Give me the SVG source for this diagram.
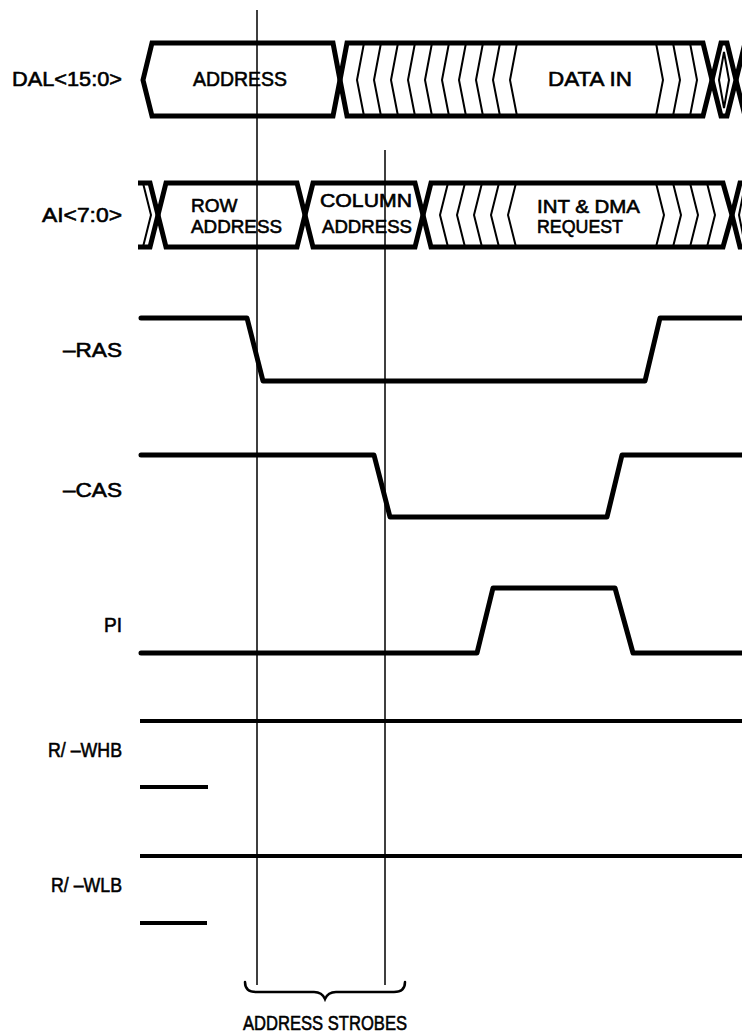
<svg xmlns="http://www.w3.org/2000/svg" width="742" height="1034" viewBox="0 0 742 1034">
<style>
.bus{fill:none;stroke:#000;stroke-width:5;stroke-linejoin:miter;stroke-miterlimit:10}
.hatch{fill:none;stroke:#000;stroke-width:2}
.wave{fill:none;stroke:#000;stroke-width:5;stroke-linejoin:round;stroke-linecap:round}
.rw{fill:none;stroke:#000;stroke-width:3.8}
.vline{fill:none;stroke:#000;stroke-width:1.5}
.brace{fill:none;stroke:#000;stroke-width:2.5;stroke-linecap:round}
text{font-family:"Liberation Sans",Arial,Helvetica,sans-serif;fill:#000;stroke:#000;stroke-width:0.6}
.lbl{font-size:21px;text-anchor:end}
.big{font-size:21px}
.sm{font-size:19px}
</style>
<rect width="742" height="1034" fill="#fff"/>

<!-- DAL<15:0> -->
<g id="dal">
  <text class="lbl" x="122" y="86" textLength="110" lengthAdjust="spacingAndGlyphs">DAL&lt;15:0&gt;</text>
  <polygon class="bus" points="143,80 152,43 333,43 340,80 333,116 152,116"/>
  <text class="big" x="193" y="86" textLength="94" lengthAdjust="spacingAndGlyphs">ADDRESS</text>
  <polygon class="bus" points="340,80 347,43 703,43 712,80 703,116 347,116"/>
  <path class="hatch" d="M364,43 L357,80 L364,116 M381,43 L374,80 L381,116 M398,43 L391,80 L398,116 M415,43 L408,80 L415,116 M432,43 L425,80 L432,116 M449,43 L442,80 L449,116 M466,43 L459,80 L466,116 M483,43 L476,80 L483,116 M500,43 L493,80 L500,116 M517,43 L510,80 L517,116 M656,43 L663,80 L656,116 M673,43 L680,80 L673,116 M690,43 L697,80 L690,116"/>
  <text class="big" x="548" y="86" textLength="84" lengthAdjust="spacingAndGlyphs">DATA IN</text>
  <polygon class="bus" points="712,80 721,43 727,43 736,80 727,116 721,116"/>
  <path class="hatch" d="M719,80 L724,52 L729,80 L724,108 Z"/>
  <path class="bus" d="M736,80 L745,43 M736,80 L745,116"/>
</g>

<!-- AI<7:0> -->
<g id="ai">
  <text class="lbl" x="122" y="222" textLength="80" lengthAdjust="spacingAndGlyphs">AI&lt;7:0&gt;</text>
  <path class="bus" d="M138,183 L150,183 L158,215 L150,247 L138,247"/>
  <path class="hatch" d="M143,183 L151,215 L143,247"/>
  <polygon class="bus" points="158,215 166,183 297,183 305,215 297,247 166,247"/>
  <text class="sm" x="191" y="212">ROW</text>
  <text class="sm" x="191" y="233" textLength="91" lengthAdjust="spacingAndGlyphs">ADDRESS</text>
  <polygon class="bus" points="305,215 313,183 415,183 423,215 415,247 313,247"/>
  <text class="sm" x="320" y="207" textLength="92" lengthAdjust="spacingAndGlyphs">COLUMN</text>
  <text class="sm" x="322" y="233" textLength="90" lengthAdjust="spacingAndGlyphs">ADDRESS</text>
  <polygon class="bus" points="423,215 431,183 723,183 732,215 723,247 431,247"/>
  <path class="hatch" d="M448,183 L440,215 L448,247 M465,183 L457,215 L465,247 M482,183 L474,215 L482,247 M499,183 L491,215 L499,247 M516,183 L508,215 L516,247 M656,183 L664,215 L656,247 M673,183 L681,215 L673,247 M690,183 L698,215 L690,247 M707,183 L715,215 L707,247"/>
  <text class="sm" x="537" y="213" textLength="103" lengthAdjust="spacingAndGlyphs">INT &amp; DMA</text>
  <text class="sm" x="537" y="233" textLength="86" lengthAdjust="spacingAndGlyphs">REQUEST</text>
  <path class="bus" d="M732,215 L740,183 L745,183 M732,215 L740,247 L745,247"/>
  <path class="hatch" d="M743,195 L739,215 L743,235"/>
</g>

<!-- -RAS -->
<g id="ras">
  <text class="lbl" x="122" y="357" textLength="59" lengthAdjust="spacingAndGlyphs">–RAS</text>
  <path class="wave" d="M141,318 L247,318 L263,381 L645,381 L660,318 L745,318"/>
</g>

<!-- -CAS -->
<g id="cas">
  <text class="lbl" x="122" y="497" textLength="59" lengthAdjust="spacingAndGlyphs">–CAS</text>
  <path class="wave" d="M141,455 L374,455 L390,517 L607,517 L622,455 L745,455"/>
</g>

<!-- PI -->
<g id="pi">
  <text class="lbl" x="122" y="632" textLength="18" lengthAdjust="spacingAndGlyphs">PI</text>
  <path class="wave" d="M141,653 L477,653 L493,588 L615,588 L633,653 L745,653"/>
</g>

<!-- R/-WHB -->
<g id="rwhb">
  <text class="lbl" x="122" y="757" textLength="74" lengthAdjust="spacingAndGlyphs">R/ –WHB</text>
  <path class="rw" d="M140,721 L745,721 M140,787 L208,787"/>
</g>

<!-- R/-WLB -->
<g id="rwlb">
  <text class="lbl" x="122" y="892" textLength="71" lengthAdjust="spacingAndGlyphs">R/ –WLB</text>
  <path class="rw" d="M140,856 L745,856 M140,923 L207,923"/>
</g>

<!-- connectors: strobe markers and brace -->
<g id="connectors">
  <path class="vline" d="M257,10 L257,985 M385,150 L385,985"/>
  <path class="brace" d="M245,982 Q245,992 256,992 L314,992 Q322,992 325,999 Q328,992 336,992 L394,992 Q405,992 405,982"/>
</g>

<g id="strobes-label">
  <text class="big" x="243" y="1030" textLength="164" lengthAdjust="spacingAndGlyphs">ADDRESS STROBES</text>
</g>
</svg>
